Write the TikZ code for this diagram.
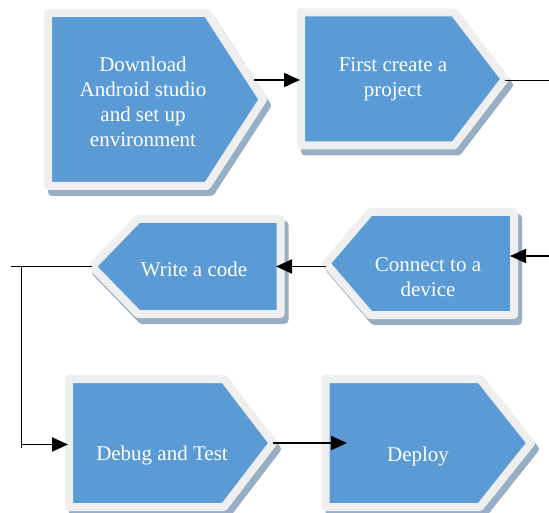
\documentclass[tikz,border=0pt]{standalone}
\usepackage{fontspec}
\setmainfont{Liberation Serif}
\usetikzlibrary{arrows.meta}
\definecolor{boxblue}{HTML}{5B9BD5}
\definecolor{boxrim}{HTML}{EFEFEF}
\definecolor{boxshade}{HTML}{98AEC4}
% one pentagon step: offset shadow first, then the rimmed blue body
\newcommand\stepbox[1]{%
  \path[stepshadow,shift={(4,6)}] #1;
  \path[stepbody] #1;}
\begin{document}
\begin{tikzpicture}[x=1pt,y=-1pt,
  stepshadow/.style={fill=boxshade,draw=boxshade,line width=8pt,line join=round},
  stepbody/.style={fill=boxblue,draw=boxrim,line width=8pt,line join=round},
  lbl/.style={text=white,align=center,inner sep=0pt,
              font=\fontsize{21}{25}\selectfont},
  link/.style={draw=black,line width=1.9pt},
  arrowlink/.style={link,-{Triangle[length=16pt,width=14pt]}}]
\useasboundingbox (0,0) rectangle (549,513);

% step shapes
\stepbox{(48,13) -- (207,13) -- (263,99.5) -- (207,186) -- (48,186) -- cycle}
\stepbox{(301,12.5) -- (454,12.5) -- (505,79) -- (454,145.5) -- (301,145.5) -- cycle}
\stepbox{(514,212) -- (370,212) -- (326,263.5) -- (370,315) -- (514,315) -- cycle}
\stepbox{(280.5,219) -- (138,219) -- (92,266.5) -- (138,314) -- (280.5,314) -- cycle}
\stepbox{(69,379) -- (224,379) -- (273,443) -- (224,507) -- (69,507) -- cycle}
\stepbox{(325.5,379) -- (480,379) -- (531,443) -- (480,507) -- (325.5,507) -- cycle}

% labels
\node[lbl] (download) at (143,102) {Download\\Android studio\\and set up\\environment};
\node[lbl] (create)   at (393,79)  {First create a\\project};
\node[lbl] (connect)  at (428,277) {Connect to a\\device};
\node[lbl] (write)    at (194,269.5) {Write a code};
\node[lbl] (debug)    at (162,455.5) {Debug and Test};
\node[lbl] (deploy)   at (418,456.5) {Deploy};

% connector end points on the step outlines
\coordinate (download-out) at (254,80);
\coordinate (create-in)    at (300,80);
\coordinate (create-out)   at (505,80.5);
\coordinate (edge-top)     at (552,80.5);
\coordinate (edge-mid)     at (552,256);
\coordinate (connect-in)   at (510,256);
\coordinate (connect-out)  at (326,266.5);
\coordinate (write-in)     at (276,266.5);
\coordinate (write-out)    at (92,266.5);
\coordinate (loop-end)     at (11,266.5);
\coordinate (loop-top)     at (21.5,265.6);
\coordinate (loop-foot)    at (21.5,448);
\coordinate (loop-turn)    at (21.5,444.5);
\coordinate (debug-in)     at (68,444.5);
\coordinate (debug-out)    at (273,443);
\coordinate (deploy-in)    at (347,443);

% connectors
\draw[arrowlink] (download-out) -- (create-in);
\draw[link] (create-out) -- (edge-top);
\draw[arrowlink] (edge-mid) -- (connect-in);
\draw[arrowlink] (connect-out) -- (write-in);
\draw[link] (write-out) -- (loop-end);
\draw[link] (loop-top) -- (loop-foot);
\draw[arrowlink] (loop-turn) -- (debug-in);
\draw[arrowlink] (debug-out) -- (deploy-in);
\end{tikzpicture}
\end{document}
